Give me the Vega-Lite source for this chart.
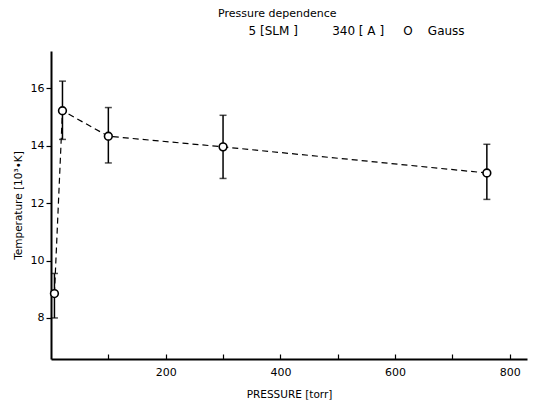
{
  "$schema": "https://vega.github.io/schema/vega-lite/v6.json",
  "width": 476,
  "height": 308,
  "autosize": {"type": "none"},
  "padding": {"left": 51, "top": 51, "right": 11, "bottom": 51},
  "background": "white",
  "config": {
    "view": {"stroke": null},
    "font": "DejaVu Sans",
    "axis": {"grid": false, "domainColor": "black", "tickColor": "black", "labelColor": "black", "titleColor": "black", "labelFont": "DejaVu Sans", "titleFont": "DejaVu Sans", "titleFontWeight": "normal", "labelFontSize": 11, "titleFontSize": 10.5, "domainWidth": 2, "tickWidth": 1.2}
  },
  "title": {
    "text": "Pressure dependence",
    "subtitle": "\u200b\u2007\u2007\u2007\u20075 [SLM ]\u00a0\u00a0\u00a0\u00a0\u00a0\u00a0\u00a0\u00a0\u00a0340 [ A ]\u00a0\u00a0\u00a0\u00a0\u00a0O\u00a0\u00a0\u00a0\u00a0Gauss",
    "anchor": "start",
    "frame": "group",
    "dx": 167,
    "offset": 14,
    "font": "DejaVu Sans",
    "subtitleFont": "DejaVu Sans",
    "fontSize": 11,
    "subtitleFontSize": 12,
    "fontWeight": "normal",
    "subtitlePadding": 7,
    "color": "black",
    "subtitleColor": "black"
  },
  "data": {
    "values": [
      {"p": 6, "T": 8.85, "lo": 8.0, "hi": 9.55},
      {"p": 20, "T": 15.22, "lo": 14.22, "hi": 16.25},
      {"p": 100, "T": 14.33, "lo": 13.4, "hi": 15.33},
      {"p": 300, "T": 13.96, "lo": 12.86, "hi": 15.06},
      {"p": 760, "T": 13.05, "lo": 12.13, "hi": 14.05}
    ]
  },
  "encoding": {
    "x": {
      "field": "p",
      "type": "quantitative",
      "scale": {"domain": [0, 830], "nice": false, "zero": false},
      "axis": {
        "title": "PRESSURE [torr]",
        "values": [100, 200, 300, 400, 500, 600, 700, 800],
        "labelExpr": "datum.value % 200 == 0 ? datum.label : ''",
        "tickSize": -5,
        "labelPadding": 12,
        "titlePadding": 12,
        "labelFlush": false
      }
    },
    "y": {
      "field": "T",
      "type": "quantitative",
      "scale": {"domain": [6.57, 17.3], "nice": false, "zero": false},
      "axis": {
        "title": "Temperature [10³•K]",
        "values": [8, 10, 12, 14, 16],
        "tickSize": 5,
        "labelPadding": 2,
        "titlePadding": 7
      }
    }
  },
  "layer": [
    {
      "mark": {"type": "line", "strokeDash": [6, 4], "color": "black", "strokeWidth": 1.2}
    },
    {
      "mark": {"type": "rule", "color": "black", "strokeWidth": 1.5},
      "encoding": {"y": {"field": "lo", "type": "quantitative"}, "y2": {"field": "hi"}}
    },
    {
      "mark": {"type": "tick", "orient": "horizontal", "color": "black", "size": 7, "thickness": 1.5},
      "encoding": {"y": {"field": "hi", "type": "quantitative"}}
    },
    {
      "mark": {"type": "tick", "orient": "horizontal", "color": "black", "size": 7, "thickness": 1.5},
      "encoding": {"y": {"field": "lo", "type": "quantitative"}}
    },
    {
      "mark": {"type": "point", "shape": "circle", "filled": true, "fill": "white", "stroke": "black", "strokeWidth": 1.6, "size": 60, "opacity": 1}
    }
  ]
}
